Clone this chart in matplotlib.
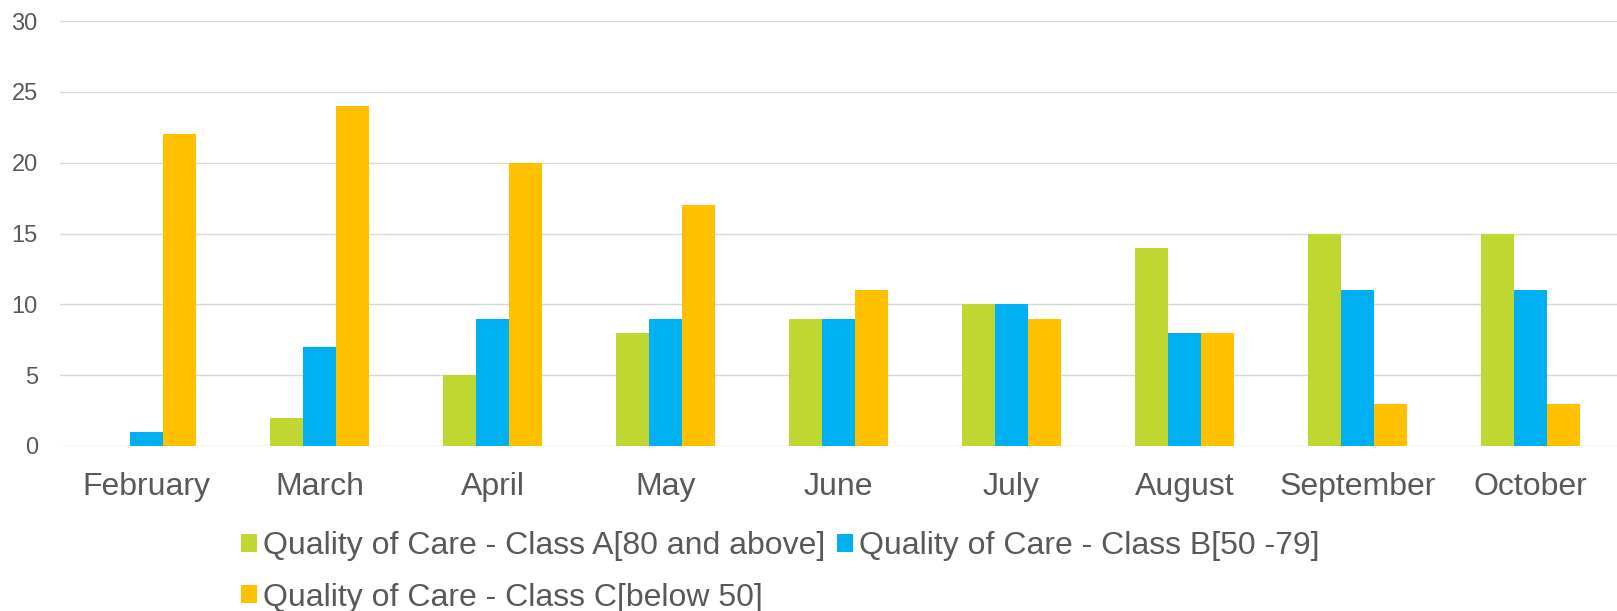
import matplotlib
matplotlib.use('Agg')
from matplotlib import pyplot as plt
import numpy as np

plt.rcParams['font.family'] = ['Liberation Sans', 'DejaVu Sans']

months = ['February', 'March', 'April', 'May', 'June', 'July', 'August',
          'September', 'October']
class_a = [0, 2, 5, 8, 9, 10, 14, 15, 15]
class_b = [1, 7, 9, 9, 9, 10, 8, 11, 11]
class_c = [22, 24, 20, 17, 11, 9, 8, 3, 3]
labels = ['Quality of Care - Class A[80 and above]',
          'Quality of Care - Class B[50 -79]',
          'Quality of Care - Class C[below 50]']
colors = ['#C0D731', '#00B0F0', '#FFC000']
text_grey = '#595959'

fig = plt.figure(figsize=(16.17, 6.11), dpi=100)
ax = fig.add_axes([60 / 1617, 1 - 446 / 611, 1 - 60 / 1617, 425 / 611])

x = np.arange(len(months))
w = 0.1925
bars = []
for i, (vals, c, lab) in enumerate(zip([class_a, class_b, class_c], colors, labels)):
    b = ax.bar(x + (i - 1) * w, vals, width=w, color=c, label=lab, zorder=3)
    bars.append(b)

ax.set_xlim(-0.5, len(months) - 0.5)
ax.set_ylim(0, 30)
ax.set_yticks(range(0, 31, 5))
ax.grid(axis='y', color='#D9D9D9', linewidth=1.0, zorder=0)
for s in ax.spines.values():
    s.set_visible(False)
ax.set_xticks(x)
ax.set_xticklabels(months)
ax.tick_params(axis='x', length=0, pad=19, labelsize=23, labelcolor=text_grey)
ax.tick_params(axis='y', length=0, pad=16, labelsize=17, labelcolor=text_grey)

# order so that A, B sit on row 1 and C on row 2
handles = [bars[0], bars[2], bars[1]]
leg_labels = [labels[0], labels[2], labels[1]]
leg = fig.legend(handles, leg_labels, ncol=2, loc='upper left',
                 bbox_to_anchor=(241 / 1617, 1 - 531 / 611),
                 frameon=False, fontsize=23, handlelength=0.5, handleheight=0.5,
                 handletextpad=0.2, columnspacing=0.35, labelspacing=0.68,
                 borderpad=0, borderaxespad=0)
for t in leg.get_texts():
    t.set_color(text_grey)

fig.savefig('out.png', dpi=100)
